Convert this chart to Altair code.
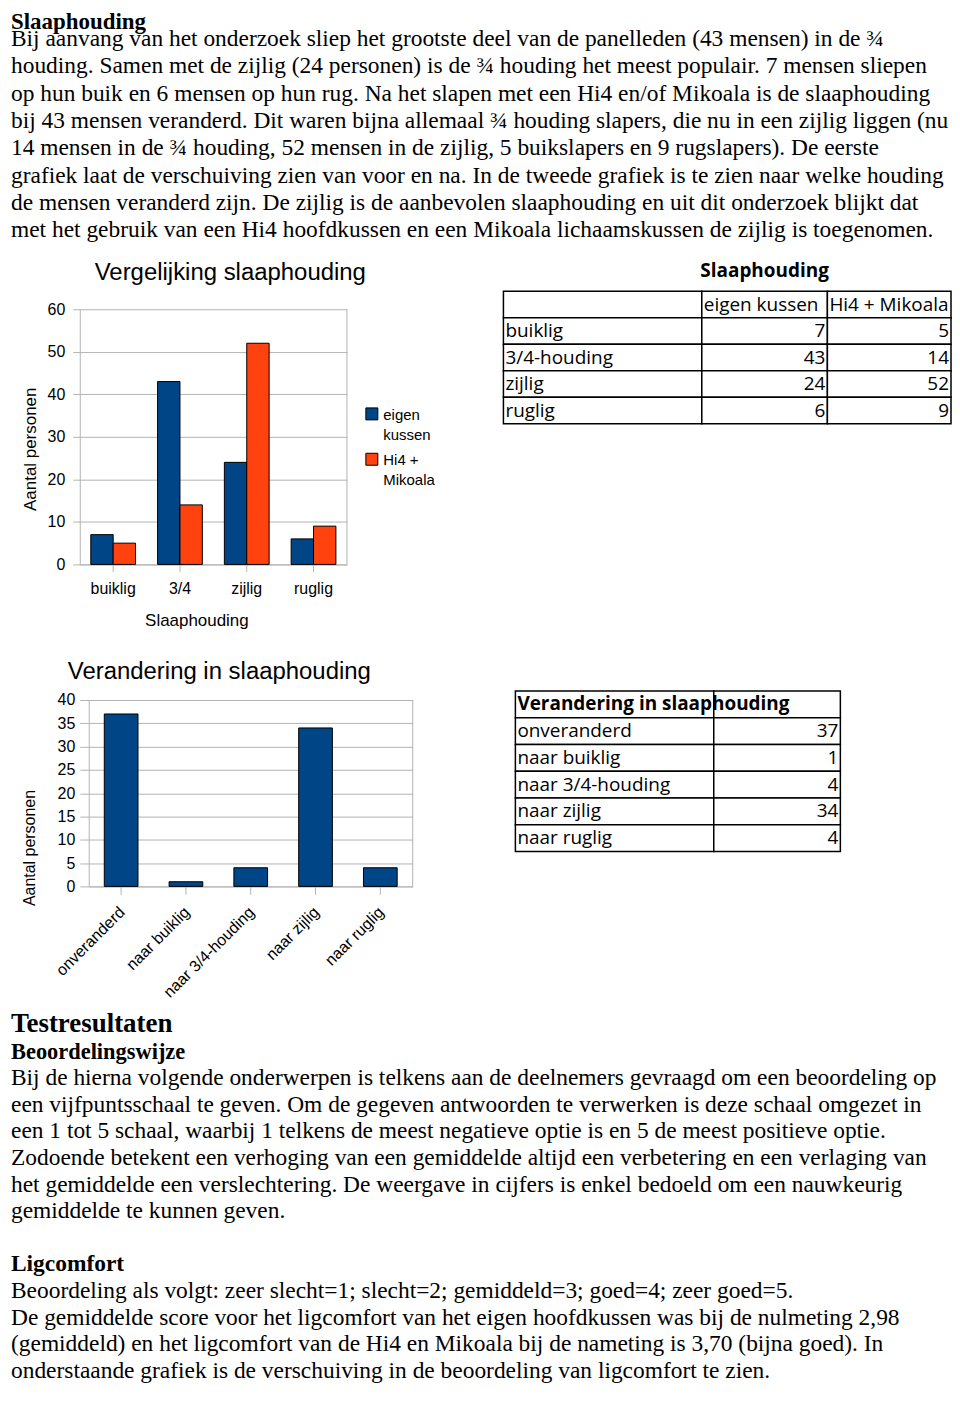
import altair as alt
import pandas as pd

# ---------------- data ----------------
houdingen = ["buiklig", "3/4", "zijlig", "ruglig"]
tabel1_rijen = ["buiklig", "3/4-houding", "zijlig", "ruglig"]
series = ["eigen kussen", "Hi4 + Mikoala"]
series_regels = [["eigen", "kussen"], ["Hi4 +", "Mikoala"]]
eigen_kussen = [7, 43, 24, 6]
hi4_mikoala = [5, 14, 52, 9]
y_ticks1 = [0, 10, 20, 30, 40, 50, 60]

veranderingen = ["onveranderd", "naar buiklig", "naar 3/4-houding", "naar zijlig", "naar ruglig"]
verandering_aantal = [37, 1, 4, 34, 4]
y_ticks2 = [0, 5, 10, 15, 20, 25, 30, 35, 40]

titel1 = "Vergelijking slaaphouding"
titel2 = "Verandering in slaaphouding"
tabel1_titel = "Slaaphouding"

intro_kop = "Slaaphouding"
intro_regels = [
    "Bij aanvang van het onderzoek sliep het grootste deel van de panelleden (43 mensen) in de ¾",
    "houding. Samen met de zijlig (24 personen) is de ¾ houding het meest populair. 7 mensen sliepen",
    "op hun buik en 6 mensen op hun rug. Na het slapen met een Hi4 en/of Mikoala is de slaaphouding",
    "bij 43 mensen veranderd. Dit waren bijna allemaal ¾ houding slapers, die nu in een zijlig liggen (nu",
    "14 mensen in de ¾ houding, 52 mensen in de zijlig, 5 buikslapers en 9 rugslapers). De eerste",
    "grafiek laat de verschuiving zien van voor en na. In de tweede grafiek is te zien naar welke houding",
    "de mensen veranderd zijn. De zijlig is de aanbevolen slaaphouding en uit dit onderzoek blijkt dat",
    "met het gebruik van een Hi4 hoofdkussen en een Mikoala lichaamskussen de zijlig is toegenomen.",
]
test_kop = "Testresultaten"
beoordeling_kop = "Beoordelingswijze"
beoordeling_regels = [
    "Bij de hierna volgende onderwerpen is telkens aan de deelnemers gevraagd om een beoordeling op",
    "een vijfpuntsschaal te geven. Om de gegeven antwoorden te verwerken is deze schaal omgezet in",
    "een 1 tot 5 schaal, waarbij 1 telkens de meest negatieve optie is en 5 de meest positieve optie.",
    "Zodoende betekent een verhoging van een gemiddelde altijd een verbetering en een verlaging van",
    "het gemiddelde een verslechtering. De weergave in cijfers is enkel bedoeld om een nauwkeurig",
    "gemiddelde te kunnen geven.",
]
lig_kop = "Ligcomfort"
lig_regels = [
    "Beoordeling als volgt: zeer slecht=1; slecht=2; gemiddeld=3; goed=4; zeer goed=5.",
    "De gemiddelde score voor het ligcomfort van het eigen hoofdkussen was bij de nulmeting 2,98",
    "(gemiddeld) en het ligcomfort van de Hi4 en Mikoala bij de nameting is 3,70 (bijna goed). In",
    "onderstaande grafiek is de verschuiving in de beoordeling van ligcomfort te zien.",
]

# ---------------- styles ----------------
SERIF = "Liberation Serif"
SANS = "Liberation Sans"
TAB = "Open Sans"
BLUE = "#004586"
ORANGE = "#ff420e"
GRID = "#b3b3b3"
LH = 27.4
LH2 = 26.7
BODY = 23.5
W = 943

ONE = pd.DataFrame({"_": [0]})


def txt(lines, x, y, size, weight="normal", font=SERIF, align="left",
        baseline="alphabetic", lh=LH):
    return alt.Chart(ONE).mark_text(
        text=lines, font=font, fontSize=size, fontWeight=weight,
        lineHeight=lh, align=align, baseline=baseline, color="black",
    ).encode(x=alt.value(x), y=alt.value(y))


def frame_edge(x, h):
    return alt.Chart(ONE).mark_rule(color=GRID, strokeWidth=1).encode(
        x=alt.value(x), y=alt.value(0), y2=alt.value(h))


AX = dict(labelFont=SANS, labelFontSize=16, labelColor="black",
          titleFont=SANS, titleFontWeight="normal", titleColor="black",
          domainColor=GRID, tickColor=GRID, gridColor=GRID)


def table(df, cols, size, yrange, header_bold=False):
    Y = alt.Y("rij:O", axis=None,
              scale=alt.Scale(domain=list(df["rij"]), range=yrange,
                              paddingInner=0, paddingOuter=0))
    layers = []
    for i in range(len(cols) - 1):
        layers.append(alt.Chart(df).mark_rect(fill="white", stroke="black", strokeWidth=1.5).encode(
            y=Y, x=alt.value(cols[i]), x2=alt.value(cols[i + 1])))
    base = dict(font=TAB, fontSize=size, color="black", baseline="middle")
    layers.append(alt.Chart(df).mark_text(align="left", **base).encode(
        y=Y, x=alt.value(cols[0] + 2), text="c0:N").transform_filter("datum.rij > 0"))
    layers.append(alt.Chart(df).mark_text(
        align="left", fontWeight="bold" if header_bold else "normal", **base).encode(
        y=Y, x=alt.value(cols[0] + 2), text="c0:N").transform_filter("datum.rij == 0"))
    for i in range(1, len(cols) - 1):
        layers.append(alt.Chart(df).mark_text(align="right", **base).encode(
            y=Y, x=alt.value(cols[i + 1] - 2), text=f"c{i}:N").transform_filter("datum.rij > 0"))
        layers.append(alt.Chart(df).mark_text(align="left", **base).encode(
            y=Y, x=alt.value(cols[i] + 2), text=f"c{i}:N").transform_filter("datum.rij == 0"))
    return layers


# ---------------- row A: intro text ----------------
rowA = alt.layer(
    txt([intro_kop], 0, 18.5, 23, "bold"),
    txt(intro_regels, 0, 36, BODY),
).properties(width=W, height=300)

# ---------------- row B: chart 1 + table 1 ----------------
H1 = 256
X1 = [69, 337]
COLOR = alt.Color("serie:N", sort=series, legend=None,
                  scale=alt.Scale(domain=series, range=[BLUE, ORANGE]))
df1 = pd.DataFrame({
    "houding": houdingen * 2,
    "serie": [series[0]] * len(houdingen) + [series[1]] * len(houdingen),
    "aantal": eigen_kussen + hi4_mikoala,
})
bars1 = alt.Chart(df1).mark_bar(stroke="black", strokeWidth=1).encode(
    x=alt.X("houding:N", sort=houdingen,
            scale=alt.Scale(range=X1, paddingInner=0.33, paddingOuter=0.165),
            axis=alt.Axis(title="Slaaphouding", labelAngle=0, tickSize=7, labelPadding=9,
                          titleFontSize=17, titleX=186, titleY=56, titleBaseline="middle",
                          titleAlign="center", grid=False, **AX)),
    xOffset=alt.XOffset("serie:N", sort=series, scale=alt.Scale(paddingInner=0, paddingOuter=0)),
    y=alt.Y("aantal:Q", scale=alt.Scale(domain=[0, 60], nice=False),
            axis=alt.Axis(values=y_ticks1, title="Aantal personen", tickSize=7, labelPadding=8,
                          offset=-X1[0], titleFontSize=17, titleX=-49, titleY=140, titleAngle=270,
                          titleBaseline="middle", titleAlign="center", **AX)),
    color=COLOR,
)

# legend (drawn from the series list through the colour scale)
leg = pd.DataFrame({"serie": series, "regels": series_regels})
LEG_Y = alt.Y("serie:N", axis=None,
              scale=alt.Scale(type="point", domain=series, range=[105, 150.5], padding=0))
leg_sym = alt.Chart(leg).mark_square(size=144, opacity=1, stroke="black", strokeWidth=1).encode(
    x=alt.value(362), y=LEG_Y, color=COLOR)
leg_txt = alt.Chart(leg).mark_text(font=SANS, fontSize=15, lineHeight=20, align="left",
                                   baseline="alphabetic", dy=6, color="black").encode(
    x=alt.value(373.5), y=LEG_Y, text="regels:N")

t1 = pd.DataFrame({
    "rij": list(range(len(tabel1_rijen) + 1)),
    "c0": [""] + tabel1_rijen,
    "c1": [series[0]] + [str(v) for v in eigen_kussen],
    "c2": [series[1]] + [str(v) for v in hi4_mikoala],
})
rowB = alt.layer(
    bars1,
    frame_edge(X1[1], H1),
    leg_sym, leg_txt,
    txt([titel1], 220, -36, 24, font=SANS, align="center", baseline="middle"),
    *table(t1, [494, 693, 819, 943], 19, [-18, 115]),
    txt([tabel1_titel], 756, -38.5, 19, "bold", font=TAB, align="center", baseline="middle"),
).resolve_scale(y="independent").properties(width=W, height=H1)

# ---------------- row C: gap ----------------
rowC = alt.Chart(ONE).mark_point(opacity=0).encode(
    x=alt.value(0), y=alt.value(0)).properties(width=W, height=136)

# ---------------- row D: chart 2 + table 2 ----------------
H2 = 187
X2 = [78, 403]
df2 = pd.DataFrame({"verandering": veranderingen, "aantal": verandering_aantal})
bars2 = alt.Chart(df2).mark_bar(color=BLUE, stroke="black", strokeWidth=1).encode(
    x=alt.X("verandering:N", sort=veranderingen,
            scale=alt.Scale(range=X2, paddingInner=0.48, paddingOuter=0.24),
            axis=alt.Axis(title=None, labelAngle=-45, labelAlign="right", labelBaseline="middle",
                          tickSize=8, labelPadding=15, labelOffset=1, grid=False, **AX)),
    y=alt.Y("aantal:Q", scale=alt.Scale(domain=[0, 40], nice=False),
            axis=alt.Axis(values=y_ticks2, title="Aantal personen", tickSize=9, labelPadding=5,
                          offset=-X2[0], titleFontSize=16, titleX=-59, titleY=148, titleAngle=270,
                          titleBaseline="middle", titleAlign="center", **AX)),
)
t2 = pd.DataFrame({
    "rij": list(range(len(veranderingen) + 1)),
    "c0": ["Verandering in slaaphouding"] + veranderingen,
    "c1": [""] + [str(v) for v in verandering_aantal],
})
rowD = alt.layer(
    bars2,
    frame_edge(X2[1], H2),
    txt([titel2], 209, -28, 24, font=SANS, align="center", baseline="middle"),
    *table(t2, [506, 705, 832], 19, [-9, 152], header_bold=True),
).resolve_scale(y="independent").properties(width=W, height=H2)

# ---------------- row E: text ----------------
E0 = 146  # baseline of "Testresultaten" inside row E
rowE = alt.layer(
    txt([test_kop], 0, E0, 27, "bold", lh=LH2),
    txt([beoordeling_kop], 0, E0 + LH2, 22.5, "bold", lh=LH2),
    txt(beoordeling_regels, 0, E0 + 2 * LH2, BODY, lh=LH2),
    txt([lig_kop], 0, E0 + 9 * LH2, 23.5, "bold", lh=LH2),
    txt(lig_regels, 0, E0 + 10 * LH2, BODY, lh=LH2),
).properties(width=W, height=480)

chart = alt.vconcat(
    rowA, rowB, rowC, rowD, rowE, spacing=0, bounds="flush", padding=0,
).configure_view(stroke=None)

chart.save("out.html", embed_options={"renderer": "svg", "actions": False})
